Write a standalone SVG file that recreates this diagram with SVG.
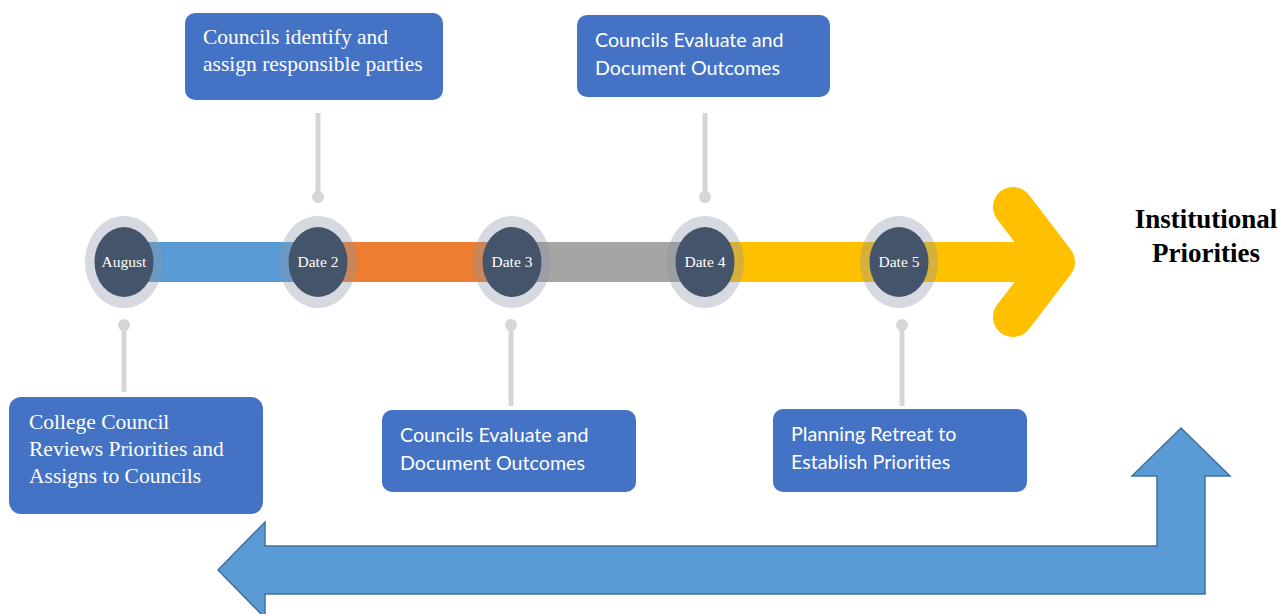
<svg xmlns="http://www.w3.org/2000/svg" width="1281" height="614" viewBox="0 0 1281 614">
<style>
.box{fill:#4472C4;}
.serif{font-family:"Liberation Serif","Times New Roman",serif;fill:#fff;font-size:21.5px;}
.sans{font-family:Lato,"Open Sans",sans-serif;fill:#fff;font-size:19.7px;}
.ring{fill:#8A94A6;fill-opacity:0.35;}
.dot{fill:#44546A;}
.dl{font-family:"Liberation Serif","Times New Roman",serif;fill:#fff;font-size:15.5px;text-anchor:middle;}
.conn{stroke:#D6D6D6;stroke-width:5;fill:none;}
.cdot{fill:#D6D6D6;}
</style>
<rect width="1281" height="614" fill="#fff"/>
<g id="timeline">
<rect x="124" y="242" width="194" height="40" fill="#5B9BD5"/>
<rect x="318" y="242" width="194" height="40" fill="#ED7D31"/>
<rect x="512" y="242" width="193" height="40" fill="#A5A5A5"/>
<rect x="705" y="242" width="330" height="40" fill="#FFC000"/>
<polyline points="1013,207 1055,262 1013,317" fill="none" stroke="#FFC000" stroke-width="40" stroke-linecap="round" stroke-linejoin="round"/>
</g>
<g id="connectors">
<line class="conn" x1="318" y1="113" x2="318" y2="197"/><circle class="cdot" cx="318" cy="197" r="6"/>
<line class="conn" x1="705" y1="113" x2="705" y2="197"/><circle class="cdot" cx="705" cy="197" r="6"/>
<line class="conn" x1="124" y1="325" x2="124" y2="392"/><circle class="cdot" cx="124" cy="325" r="6"/>
<line class="conn" x1="511" y1="325" x2="511" y2="406"/><circle class="cdot" cx="511" cy="325" r="6"/>
<line class="conn" x1="902" y1="325" x2="902" y2="406"/><circle class="cdot" cx="902" cy="325" r="6"/>
</g>
<g id="n-august"><ellipse class="ring" cx="124" cy="262" rx="39" ry="46"/><ellipse class="dot" cx="124" cy="262" rx="29.5" ry="35"/><text class="dl" x="124" y="267">August</text></g>
<g id="n-date2"><ellipse class="ring" cx="318" cy="262" rx="39" ry="46"/><ellipse class="dot" cx="318" cy="262" rx="29.5" ry="35"/><text class="dl" x="318" y="267">Date 2</text></g>
<g id="n-date3"><ellipse class="ring" cx="512" cy="262" rx="39" ry="46"/><ellipse class="dot" cx="512" cy="262" rx="29.5" ry="35"/><text class="dl" x="512" y="267">Date 3</text></g>
<g id="n-date4"><ellipse class="ring" cx="705" cy="262" rx="39" ry="46"/><ellipse class="dot" cx="705" cy="262" rx="29.5" ry="35"/><text class="dl" x="705" y="267">Date 4</text></g>
<g id="n-date5"><ellipse class="ring" cx="899" cy="262" rx="39" ry="46"/><ellipse class="dot" cx="899" cy="262" rx="29.5" ry="35"/><text class="dl" x="899" y="267">Date 5</text></g>
<g id="b-identify"><rect class="box" x="185" y="13" width="258" height="87" rx="10"/><text class="serif" x="203" y="44">Councils identify and</text><text class="serif" x="203" y="71">assign responsible parties</text></g>
<g id="b-evaluate-top"><rect class="box" x="577" y="15" width="253" height="82" rx="10"/><text class="sans" x="595" y="47">Councils Evaluate and</text><text class="sans" x="595" y="75">Document Outcomes</text></g>
<g id="b-college"><rect class="box" x="9" y="397" width="254" height="117" rx="12"/><text class="serif" x="29" y="429">College Council</text><text class="serif" x="29" y="456">Reviews Priorities and</text><text class="serif" x="29" y="483">Assigns to Councils</text></g>
<g id="b-evaluate-bottom"><rect class="box" x="382" y="410" width="254" height="82" rx="10"/><text class="sans" x="400" y="442">Councils Evaluate and</text><text class="sans" x="400" y="470">Document Outcomes</text></g>
<g id="b-retreat"><rect class="box" x="773" y="409" width="254" height="83" rx="10"/><text class="sans" x="791" y="441">Planning Retreat to</text><text class="sans" x="791" y="469">Establish Priorities</text></g>
<g id="n-institutional"><text x="1206" y="228" font-family="'Liberation Serif','Times New Roman',serif" font-weight="bold" font-size="27" text-anchor="middle" fill="#000">Institutional</text><text x="1206" y="262" font-family="'Liberation Serif','Times New Roman',serif" font-weight="bold" font-size="27" text-anchor="middle" fill="#000">Priorities</text></g>
<g id="loop-arrow"><polygon points="218,570 265,522 265,546 1157,546 1157,476 1132,476 1181,428 1230,476 1205,476 1205,594 265,594 265,618" fill="#5B9BD5" stroke="#41719C" stroke-width="1.5"/></g>
</svg>
